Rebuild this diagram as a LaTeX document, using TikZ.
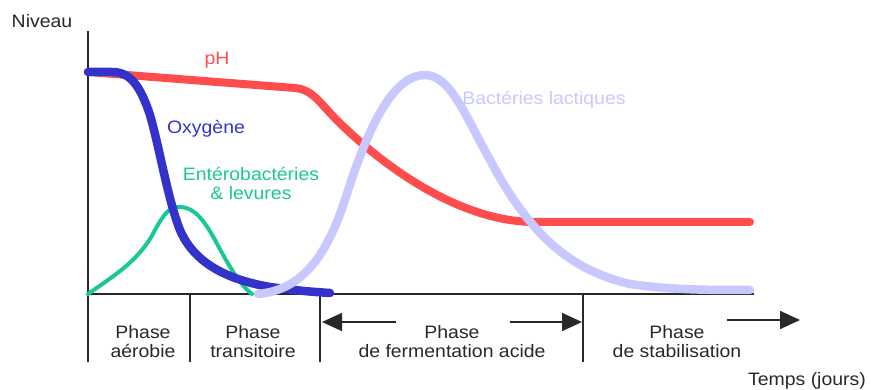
\documentclass[tikz,border=0pt]{standalone}
\usepackage{fontspec}
\setmainfont{Liberation Sans}[FakeStretch=1.08]
\usetikzlibrary{arrows.meta}
\definecolor{phred}{RGB}{255,77,77}
\definecolor{oxblue}{RGB}{51,51,204}
\definecolor{entgreen}{RGB}{25,200,150}
\definecolor{lacpurple}{RGB}{200,200,255}
\definecolor{axisgray}{RGB}{40,40,40}
\tikzset{
  axisline/.style={draw=axisgray, line width=1.6pt},
  curve/.style={line width=#1, line cap=round, line join=round},
  lbl/.style={font=\fontsize{18}{19}\selectfont, inner sep=0pt, anchor=base},
  phasearrow/.style={axisline, -{Triangle[length=20pt,width=18pt]}},
}
\begin{document}
\begin{tikzpicture}[x=1pt,y=-1pt]
\useasboundingbox (0,0) rectangle (871,390);

% axes and phase separators
\coordinate (yTop) at (88,31);
\coordinate (origin) at (88,294);
\coordinate (xEnd) at (754,294);
\draw[axisline] (yTop) -- (88,362);
\draw[axisline] (origin) -- (xEnd);
\foreach \sx/\nm in {190/sA, 320/sB, 583/sC}
  \draw[axisline] (\sx,294) coordinate (\nm top) -- (\sx,362) coordinate (\nm bot);

% arrows of the fermentation and stabilisation phases
\coordinate (fermL) at (396,322);
\coordinate (fermLtip) at (322,322);
\coordinate (fermR) at (510,322);
\coordinate (fermRtip) at (582,322);
\coordinate (stabA) at (727,320);
\coordinate (stabTip) at (800,320);
\draw[phasearrow] (fermL) -- (fermLtip);
\draw[phasearrow] (fermR) -- (fermRtip);
\draw[phasearrow] (stabA) -- (stabTip);

% enterobacteria and yeasts
\draw[curve=4pt, entgreen] (88,294) .. controls (115,275) and (140,260) .. (155,230)
  .. controls (165,212) and (170,207) .. (180,207)
  .. controls (195,207) and (205,222) .. (215,240)
  .. controls (230,268) and (240,285) .. (252,294);

% pH
\draw[curve=8pt, phred] (88,72) -- (295,88)
  .. controls (315,90) and (320,105) .. (345,128)
  .. controls (400,180) and (470,222) .. (535,222) -- (750,222);

% oxygen
\draw[curve=8.5pt, oxblue] (88,72) -- (112,72)
  .. controls (130,72) and (140,85) .. (150,115)
  .. controls (160,150) and (168,200) .. (180,230)
  .. controls (195,265) and (230,280) .. (270,287)
  .. controls (300,291) and (315,292) .. (330,293);

% lactic acid bacteria
\draw[curve=8.5pt, lacpurple] (258,294) .. controls (300,290) and (325,260) .. (345,200)
  .. controls (370,120) and (395,75) .. (425,75)
  .. controls (450,75) and (465,115) .. (490,160)
  .. controls (530,235) and (570,270) .. (630,284)
  .. controls (670,290) and (710,290) .. (750,290);

% curve labels
\node[lbl, text=phred] (phLbl) at (217,65) {pH};
\node[lbl, text=oxblue] (oxLbl) at (206,134) {Oxygène};
\node[lbl, text=entgreen] (entLbl1) at (251,181) {Entérobactéries};
\node[lbl, text=entgreen] (entLbl2) at (251,200) {\& levures};
\node[lbl, text=lacpurple] (lacLbl) at (544,105) {Bactéries lactiques};

% axis titles
\node[lbl, text=axisgray] (yLbl) at (42,28) {Niveau};
\node[lbl, text=axisgray] (xLbl) at (807,385) {Temps (jours)};

% phase names
\node[lbl, text=axisgray] (p1a) at (143,339) {Phase};
\node[lbl, text=axisgray] (p1b) at (143,358) {aérobie};
\node[lbl, text=axisgray] (p2a) at (253,339) {Phase};
\node[lbl, text=axisgray] (p2b) at (253,358) {transitoire};
\node[lbl, text=axisgray] (p3a) at (452,339) {Phase};
\node[lbl, text=axisgray] (p3b) at (452,358) {de fermentation acide};
\node[lbl, text=axisgray] (p4a) at (677,339) {Phase};
\node[lbl, text=axisgray] (p4b) at (677,358) {de stabilisation};
\end{tikzpicture}
\end{document}
